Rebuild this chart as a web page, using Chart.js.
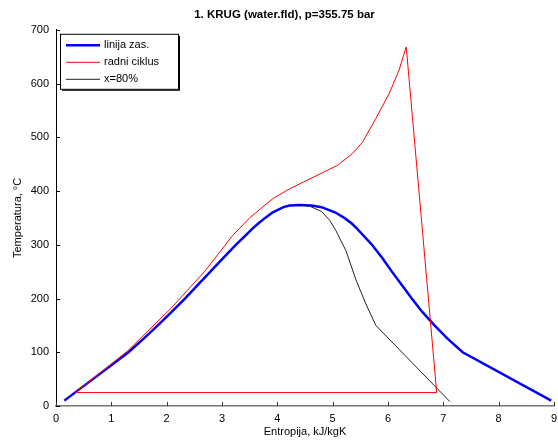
<!DOCTYPE html>
<html>
<head>
<meta charset="utf-8">
<script src="https://cdn.jsdelivr.net/npm/chart.js@4.4.1/dist/chart.umd.min.js"></script>
<style>
html,body{margin:0;padding:0;background:#fff;}
#wrap{width:558px;height:441px;}
</style>
</head>
<body>
<div id="wrap"><canvas id="c" width="558" height="441"></canvas></div>
<script>
// ---- data ----
const titleText = "1. KRUG (water.fld), p=355.75 bar";
const xLabel = "Entropija, kJ/kgK";
const yLabel = "Temperatura, \u00B0C";
const seriesNames = ["linija zas.", "radni ciklus", "x=80%"];

// saturation line (linija zas.)
const satS = [0.15, 1.31, 1.58, 1.84, 2.09, 2.33, 2.56, 2.79, 3.02, 3.25, 3.45, 3.55, 3.66, 3.78, 3.91, 4.11, 4.22, 4.41, 4.62, 4.80, 5.05, 5.21, 5.34, 5.44, 5.53, 5.62, 5.71, 5.90, 6.07, 6.25, 6.43, 6.62, 6.84, 7.08, 7.35, 8.95];
const satT = [10, 100, 125, 150, 175, 200, 225, 250, 275, 300, 320, 330, 340, 350, 360, 370, 373, 374, 373, 370, 360, 350, 340, 330, 320, 310, 300, 275, 250, 225, 200, 175, 150, 125, 100, 10];

// working cycle (radni ciklus)
const cycS = [0.35, 1.30, 2.08, 2.70, 3.19, 3.50, 3.92, 4.22, 5.09, 5.36, 5.54, 5.78, 6.02, 6.20, 6.33, 6.88, 0.35];
const cycT = [25, 103, 182, 252, 317, 350, 386, 404, 448, 470, 491, 535, 581, 625, 668, 25, 25];

// quality line x = 80%
const q80S = [4.41, 4.60, 4.80, 4.95, 5.06, 5.24, 5.42, 5.60, 5.78, 7.12];
const q80T = [374, 371, 362, 345, 326, 289, 235, 190, 150, 8];

// axis ticks
const xMin = 0, xMax = 9, xStep = 1;
const yMin = 0, yMax = 700, yStep = 100;

const toPts = (xs, ys) => xs.map((x, i) => ({x: x, y: ys[i]}));

const FONT = "'Liberation Sans', Arial, Helvetica, sans-serif";

// inward tick marks (Matlab style) drawn through the scales
const innerTicks = {
  id: 'innerTicks',
  afterDraw(chart) {
    const {ctx, chartArea: a, scales: {x, y}} = chart;
    ctx.save();
    ctx.lineWidth = 1;
    ctx.strokeStyle = '#000';
    y.ticks.forEach(t => {
      const py = Math.round(y.getPixelForValue(t.value)) + 0.5;
      ctx.beginPath();
      ctx.moveTo(a.left, py);
      ctx.lineTo(a.left + 4, py);
      ctx.stroke();
    });
    ctx.strokeStyle = '#333';
    x.ticks.forEach(t => {
      const px = Math.round(x.getPixelForValue(t.value)) + 0.5;
      ctx.beginPath();
      ctx.moveTo(px, a.bottom);
      ctx.lineTo(px, a.bottom - 4);
      ctx.stroke();
    });
    ctx.restore();
  }
};

// Matlab-style boxed legend in the top-left of the plot area
const boxLegend = {
  id: 'boxLegend',
  afterDatasetsDraw(chart) {
    const {ctx, chartArea: a} = chart;
    const l = a.left + 4, t = a.top + 4, w = 118, h = 55;
    ctx.save();
    ctx.fillStyle = '#fff';
    ctx.fillRect(l, t, w, h);
    ctx.strokeStyle = '#000';
    ctx.lineWidth = 1;
    ctx.strokeRect(l + 0.5, t + 0.5, w, h);
    ctx.beginPath();
    ctx.moveTo(l + w + 1.5, t + 2);
    ctx.lineTo(l + w + 1.5, t + h + 1.5);
    ctx.lineTo(l + 2, t + h + 1.5);
    ctx.stroke();
    ctx.font = '11px ' + FONT;
    ctx.textBaseline = 'middle';
    ctx.fillStyle = '#000';
    chart.data.datasets.forEach((ds, i) => {
      const yy = t + 11.5 + i * 17;
      ctx.strokeStyle = ds.borderColor;
      ctx.lineWidth = ds.borderWidth;
      ctx.beginPath();
      ctx.moveTo(l + 6, yy);
      ctx.lineTo(l + 40, yy);
      ctx.stroke();
      ctx.fillText(ds.label, l + 44, yy);
    });
    ctx.restore();
  }
};

new Chart(document.getElementById('c'), {
  type: 'scatter',
  data: {
    datasets: [
      {
        label: seriesNames[0],
        data: toPts(satS, satT),
        showLine: true,
        borderColor: '#0000FF',
        backgroundColor: '#0000FF',
        borderWidth: 2.5,
        pointRadius: 0,
        tension: 0,
        order: 3
      },
      {
        label: seriesNames[1],
        data: toPts(cycS, cycT),
        showLine: true,
        borderColor: '#FF0000',
        backgroundColor: '#FF0000',
        borderWidth: 1,
        pointRadius: 0,
        tension: 0,
        order: 2
      },
      {
        label: seriesNames[2],
        data: toPts(q80S, q80T),
        showLine: true,
        borderColor: '#222222',
        backgroundColor: '#222222',
        borderWidth: 1,
        pointRadius: 0,
        tension: 0,
        order: 1
      }
    ]
  },
  options: {
    responsive: false,
    animation: false,
    events: [],
    layout: { padding: { left: 11, right: 0, top: 0, bottom: 0 } },
    plugins: {
      title: {
        display: true,
        text: titleText,
        color: '#000',
        font: { family: FONT, size: 11.5, weight: 'bold', lineHeight: 1.2 },
        padding: { top: 8, bottom: 8 }
      },
      legend: { display: false },
      tooltip: { enabled: false }
    },
    scales: {
      x: {
        type: 'linear',
        min: xMin, max: xMax,
        ticks: { stepSize: xStep, color: '#000', font: { family: FONT, size: 11 }, padding: 6, maxRotation: 0 },
        grid: { display: false, drawTicks: false },
        border: { display: true, color: '#777', width: 1.5 },
        title: { display: true, text: xLabel, color: '#000', font: { family: FONT, size: 11 }, padding: { top: 1, bottom: 2 } },
        afterFit(s) { s.height = 35; s.paddingRight = 4; s.paddingLeft = 0; }
      },
      y: {
        type: 'linear',
        min: yMin, max: yMax,
        ticks: { stepSize: yStep, color: '#000', font: { family: FONT, size: 11 }, padding: 7 },
        grid: { display: false, drawTicks: false },
        border: { display: true, color: '#000', width: 1 },
        title: { display: true, text: yLabel, color: '#000', font: { family: FONT, size: 11 }, padding: { top: 0, bottom: 0 } },
        afterFit(s) { s.width = 45; }
      }
    }
  },
  plugins: [innerTicks, boxLegend]
});
</script>
</body>
</html>
